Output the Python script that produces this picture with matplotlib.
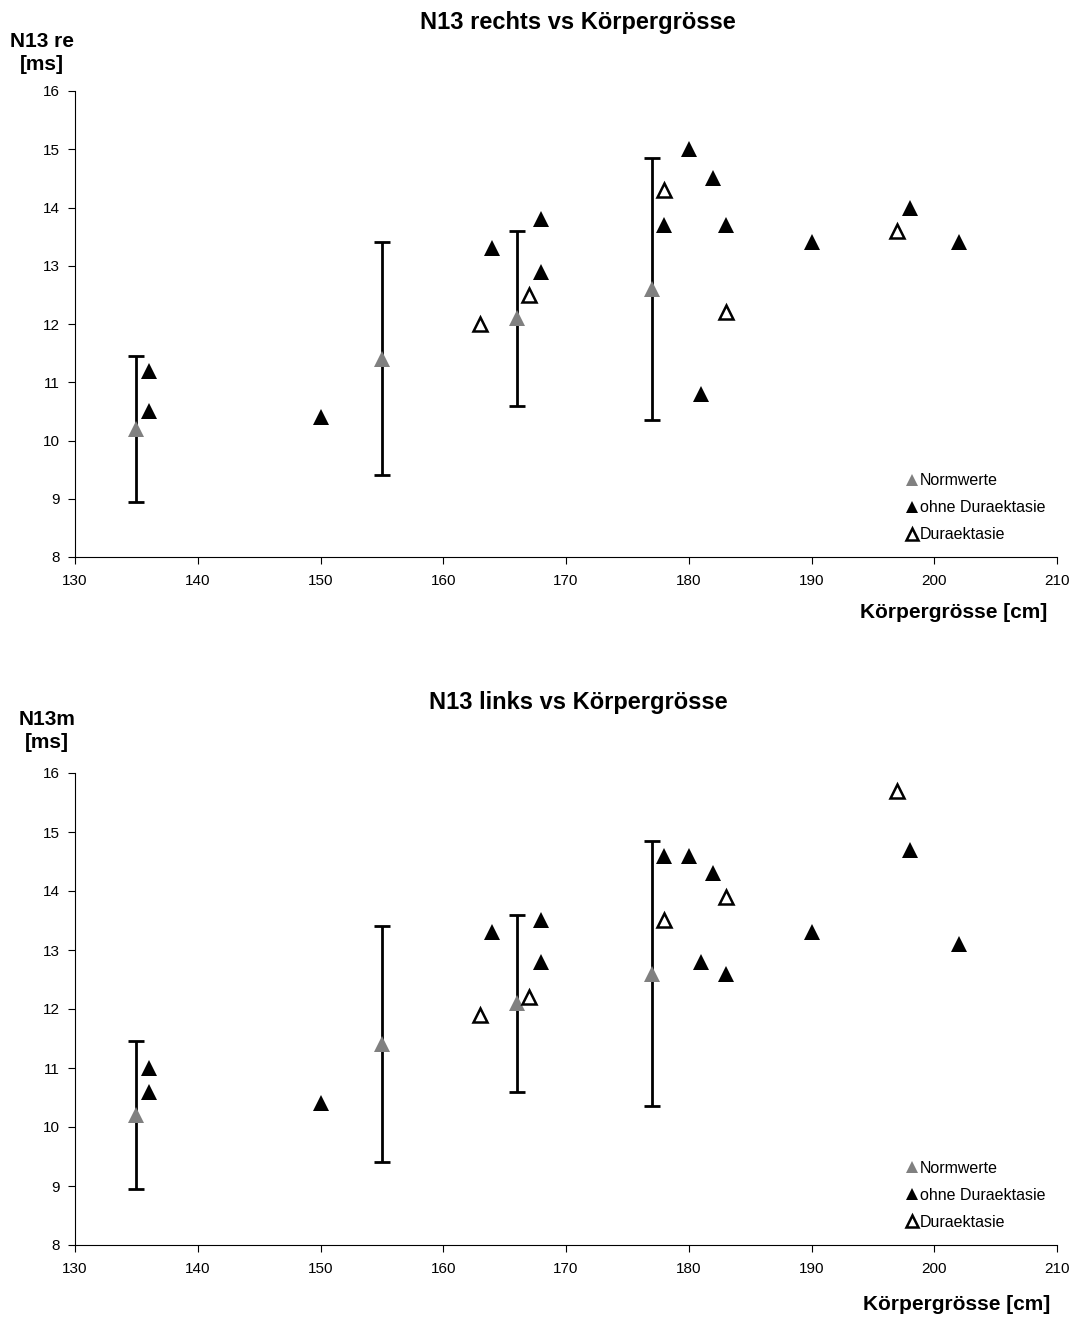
import matplotlib
matplotlib.use("Agg")
import matplotlib.pyplot as plt

plt.rcParams['font.family'] = ['Liberation Sans', 'DejaVu Sans']

# Normwerte (Mittelwert mit Bereich)
norm_x = [135, 155, 166, 177]
norm_y = [10.2, 11.4, 12.1, 12.6]
norm_lo = [8.95, 9.4, 10.6, 10.35]
norm_hi = [11.45, 13.4, 13.6, 14.85]

# N13 rechts
re_ohne_x = [136, 136, 150, 164, 168, 168, 178, 180, 181, 182, 183, 190, 198, 202]
re_ohne_y = [11.2, 10.5, 10.4, 13.3, 13.8, 12.9, 13.7, 15.0, 10.8, 14.5, 13.7, 13.4, 14.0, 13.4]
re_dura_x = [163, 167, 178, 183, 197]
re_dura_y = [12.0, 12.5, 14.3, 12.2, 13.6]

# N13 links
li_ohne_x = [136, 136, 150, 164, 168, 168, 178, 180, 181, 182, 183, 190, 198, 202]
li_ohne_y = [11.0, 10.6, 10.4, 13.3, 13.5, 12.8, 14.6, 14.6, 12.8, 14.3, 12.6, 13.3, 14.7, 13.1]
li_dura_x = [163, 167, 178, 183, 197]
li_dura_y = [11.9, 12.2, 13.5, 13.9, 15.7]

x_ticks = [130, 140, 150, 160, 170, 180, 190, 200, 210]
y_ticks = [8, 9, 10, 11, 12, 13, 14, 15, 16]


def draw_panel(ax, ohne_x, ohne_y, dura_x, dura_y):
    err = [[m - lo for m, lo in zip(norm_y, norm_lo)],
           [hi - m for m, hi in zip(norm_y, norm_hi)]]
    ax.errorbar(norm_x, norm_y, yerr=err, fmt='none', ecolor='black',
                elinewidth=2, capsize=6, capthick=2, zorder=2)
    ax.plot(norm_x, norm_y, '^', color='#808080', markersize=11,
            markeredgewidth=0, linestyle='none', label='Normwerte', zorder=3)
    ax.plot(ohne_x, ohne_y, '^', color='black', markersize=11,
            markeredgewidth=0, linestyle='none', label='ohne Duraektasie', zorder=3)
    ax.plot(dura_x, dura_y, '^', markerfacecolor='white', markeredgecolor='black',
            markersize=10, markeredgewidth=1.8, linestyle='none',
            label='Duraektasie', zorder=3)

    ax.set_xlim(130, 210)
    ax.set_ylim(8, 16)
    ax.set_xticks(x_ticks)
    ax.set_yticks(y_ticks)
    ax.tick_params(direction='out', length=5, width=0.8, labelsize=11, colors='black')
    ax.tick_params(axis='x', pad=7)
    ax.tick_params(axis='y', pad=6)
    for s in ['top', 'right']:
        ax.spines[s].set_visible(False)
    for s in ['left', 'bottom']:
        ax.spines[s].set_linewidth(0.8)
        ax.spines[s].set_color('black')

    leg = ax.legend(loc='lower left', bbox_to_anchor=(0.835, 0.008), frameon=False,
                    fontsize=11.5, markerscale=0.8, handlelength=0.7,
                    handletextpad=0.15, labelspacing=0.75, borderpad=0.2)
    return leg


fig = plt.figure(figsize=(10.74, 13.2), dpi=100)

ax1 = fig.add_axes([75 / 1074, 1 - 557 / 1320, 982 / 1074, 466 / 1320])
draw_panel(ax1, re_ohne_x, re_ohne_y, re_dura_x, re_dura_y)
ax2 = fig.add_axes([75 / 1074, 1 - 1245 / 1320, 982 / 1074, 472 / 1320])
draw_panel(ax2, li_ohne_x, li_ohne_y, li_dura_x, li_dura_y)

# Titel und Achsenbeschriftungen
fig.text(578 / 1074, 1 - 22 / 1320, 'N13 rechts vs Körpergrösse', ha='center', va='center',
         fontsize=17, fontweight='bold')
fig.text(42 / 1074, 1 - 53 / 1320, 'N13 re\n[ms]', ha='center', va='center',
         fontsize=15, fontweight='bold', linespacing=1.25)
fig.text(1047 / 1074, 1 - 613 / 1320, 'Körpergrösse [cm]', ha='right', va='center',
         fontsize=15, fontweight='bold')

fig.text(578 / 1074, 1 - 703 / 1320, 'N13 links vs Körpergrösse', ha='center', va='center',
         fontsize=17, fontweight='bold')
fig.text(47 / 1074, 1 - 731 / 1320, 'N13m\n[ms]', ha='center', va='center',
         fontsize=15, fontweight='bold', linespacing=1.25)
fig.text(1050 / 1074, 1 - 1304 / 1320, 'Körpergrösse [cm]', ha='right', va='center',
         fontsize=15, fontweight='bold')

fig.savefig('out.png', dpi=100)
